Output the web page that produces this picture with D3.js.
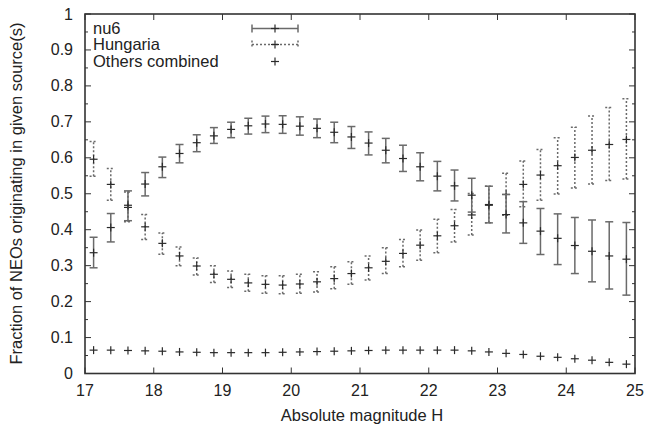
<!DOCTYPE html>
<html><head><meta charset="utf-8">
<script src="https://cdn.jsdelivr.net/npm/d3@7"></script>
<style>body{margin:0;background:#fff}svg text{font-family:"Liberation Sans",Arial,Helvetica,sans-serif;fill:#222}</style>
</head><body><svg id="c" width="646" height="427"></svg>
<script>
const H = d3.range(32).map(i => 17.125 + 0.25 * i);
const nu6Mid = [0.336,0.406,0.468,0.527,0.575,0.612,0.642,0.661,0.679,0.689,0.694,0.693,0.688,0.682,0.671,0.658,0.641,0.621,0.598,0.575,0.549,0.522,0.496,0.468,0.442,0.419,0.396,0.376,0.356,0.340,0.327,0.318];
const nu6Lo  = [0.294,0.366,0.425,0.494,0.545,0.586,0.617,0.640,0.656,0.666,0.670,0.668,0.663,0.656,0.642,0.626,0.608,0.586,0.562,0.536,0.508,0.480,0.449,0.419,0.391,0.362,0.331,0.303,0.278,0.255,0.235,0.218];
const nu6Hi  = [0.379,0.445,0.508,0.559,0.602,0.637,0.664,0.684,0.699,0.710,0.716,0.717,0.714,0.708,0.699,0.687,0.672,0.654,0.635,0.614,0.590,0.566,0.543,0.521,0.498,0.478,0.459,0.444,0.434,0.427,0.422,0.420];
const hunMid = [0.596,0.526,0.462,0.408,0.362,0.327,0.299,0.276,0.262,0.252,0.248,0.246,0.249,0.255,0.264,0.278,0.294,0.312,0.334,0.357,0.383,0.411,0.441,0.470,0.498,0.526,0.552,0.578,0.601,0.621,0.637,0.651];
const hunLo  = [0.549,0.482,0.422,0.373,0.332,0.300,0.274,0.253,0.239,0.229,0.223,0.222,0.223,0.227,0.236,0.248,0.260,0.278,0.297,0.315,0.336,0.366,0.385,0.419,0.440,0.464,0.482,0.499,0.516,0.527,0.537,0.541];
const hunHi  = [0.645,0.570,0.505,0.442,0.391,0.352,0.321,0.300,0.285,0.276,0.272,0.272,0.276,0.283,0.297,0.311,0.327,0.350,0.373,0.399,0.429,0.456,0.501,0.521,0.557,0.591,0.623,0.656,0.685,0.716,0.740,0.764];
const others = [0.065,0.065,0.064,0.063,0.062,0.060,0.059,0.058,0.058,0.058,0.058,0.059,0.060,0.061,0.062,0.063,0.064,0.065,0.065,0.065,0.065,0.065,0.063,0.060,0.056,0.053,0.048,0.045,0.041,0.037,0.031,0.026];
const xTicks = [17,18,19,20,21,22,23,24,25];
const yTicks = [0,0.1,0.2,0.3,0.4,0.5,0.6,0.7,0.8,0.9,1];
const yTickLabels = ["0","0.1","0.2","0.3","0.4","0.5","0.6","0.7","0.8","0.9","1"];
const seriesNames = ["nu6","Hungaria","Others combined"];

const svg = d3.select("#c");
const L = 85, R = 635, T = 14, B = 373.5;
const x = d3.scaleLinear().domain([17,25]).range([L,R]);
const y = d3.scaleLinear().domain([0,1]).range([B,T]);

const barCol = "#6a6a6a", ptCol = "#2a2a2a", frameCol = "#333";
const cap = 4, cr = 4;

// ticks
const g = svg.append("g");
const yMinor = d3.range(0.05,1,0.1);
function tickSet(vals, len, isY){
  vals.forEach(v=>{
    if(isY){
      g.append("line").attr("x1",L).attr("x2",L+len).attr("y1",y(v)).attr("y2",y(v)).attr("stroke",frameCol).attr("stroke-width",1);
      g.append("line").attr("x1",R).attr("x2",R-len).attr("y1",y(v)).attr("y2",y(v)).attr("stroke",frameCol).attr("stroke-width",1);
    } else {
      g.append("line").attr("x1",x(v)).attr("x2",x(v)).attr("y1",B).attr("y2",B-len).attr("stroke",frameCol).attr("stroke-width",1);
      g.append("line").attr("x1",x(v)).attr("x2",x(v)).attr("y1",T).attr("y2",T+len).attr("stroke",frameCol).attr("stroke-width",1);
    }
  });
}
tickSet(yTicks,6,true);
tickSet(yMinor,3,true);
tickSet(xTicks,6,false);

// frame
svg.append("rect").attr("x",L).attr("y",T).attr("width",R-L).attr("height",B-T)
  .attr("fill","none").attr("stroke",frameCol).attr("stroke-width",1.6);

// tick labels
yTicks.forEach((v,i)=>{
  svg.append("text").attr("x",73).attr("y",y(v)+5.5).attr("text-anchor","end").attr("font-size",16).text(yTickLabels[i]);
});
xTicks.forEach(v=>{
  svg.append("text").attr("x",x(v)).attr("y",B+22.5).attr("text-anchor","middle").attr("font-size",16).text(v);
});
svg.append("text").attr("x",(L+R)/2+2).attr("y",421).attr("text-anchor","middle").attr("font-size",16.5).text("Absolute magnitude H");
svg.append("text").attr("transform",`translate(22,193.5) rotate(-90)`).attr("text-anchor","middle").attr("font-size",16.5).text("Fraction of NEOs originating in given source(s)");

function cross(gg, cx, cy){
  gg.append("line").attr("x1",cx-cr).attr("x2",cx+cr).attr("y1",cy).attr("y2",cy).attr("stroke",ptCol).attr("stroke-width",1.2);
  gg.append("line").attr("x1",cx).attr("x2",cx).attr("y1",cy-cr).attr("y2",cy+cr).attr("stroke",ptCol).attr("stroke-width",1.2);
}
function errbars(mid, lo, hi, dash){
  const gg = svg.append("g");
  H.forEach((h,i)=>{
    const cx = x(h);
    const st = s => s.attr("stroke",barCol).attr("stroke-width",1.5).attr("stroke-dasharray",dash);
    st(gg.append("line").attr("x1",cx).attr("x2",cx).attr("y1",y(lo[i])).attr("y2",y(hi[i])));
    st(gg.append("line").attr("x1",cx-cap).attr("x2",cx+cap).attr("y1",y(lo[i])).attr("y2",y(lo[i])));
    st(gg.append("line").attr("x1",cx-cap).attr("x2",cx+cap).attr("y1",y(hi[i])).attr("y2",y(hi[i])));
  });
  H.forEach((h,i)=> cross(gg, x(h), y(mid[i])));
}
errbars(hunMid, hunLo, hunHi, "2,2");
errbars(nu6Mid, nu6Lo, nu6Hi, null);
const og = svg.append("g");
H.forEach((h,i)=> cross(og, x(h), y(others[i])));

// legend
const lg = svg.append("g");
const lx1 = 252, lx2 = 298, lxm = 275;
const ly = [28.5, 44.5, 61.5];
const lbase = [33.5, 50, 66.7];
seriesNames.forEach((n,i)=>{
  lg.append("text").attr("x",93).attr("y",lbase[i]).attr("font-size",16.5).text(n);
});
[null,"2,2"].forEach((dash,i)=>{
  const st = s => s.attr("stroke",barCol).attr("stroke-width",1.5).attr("stroke-dasharray",dash);
  st(lg.append("line").attr("x1",lx1).attr("x2",lx2).attr("y1",ly[i]).attr("y2",ly[i]));
  st(lg.append("line").attr("x1",lx1).attr("x2",lx1).attr("y1",ly[i]-cap).attr("y2",ly[i]+cap));
  st(lg.append("line").attr("x1",lx2).attr("x2",lx2).attr("y1",ly[i]-cap).attr("y2",ly[i]+cap));
  cross(lg, lxm, ly[i]);
});
cross(lg, lxm, ly[2]);
</script></body></html>
